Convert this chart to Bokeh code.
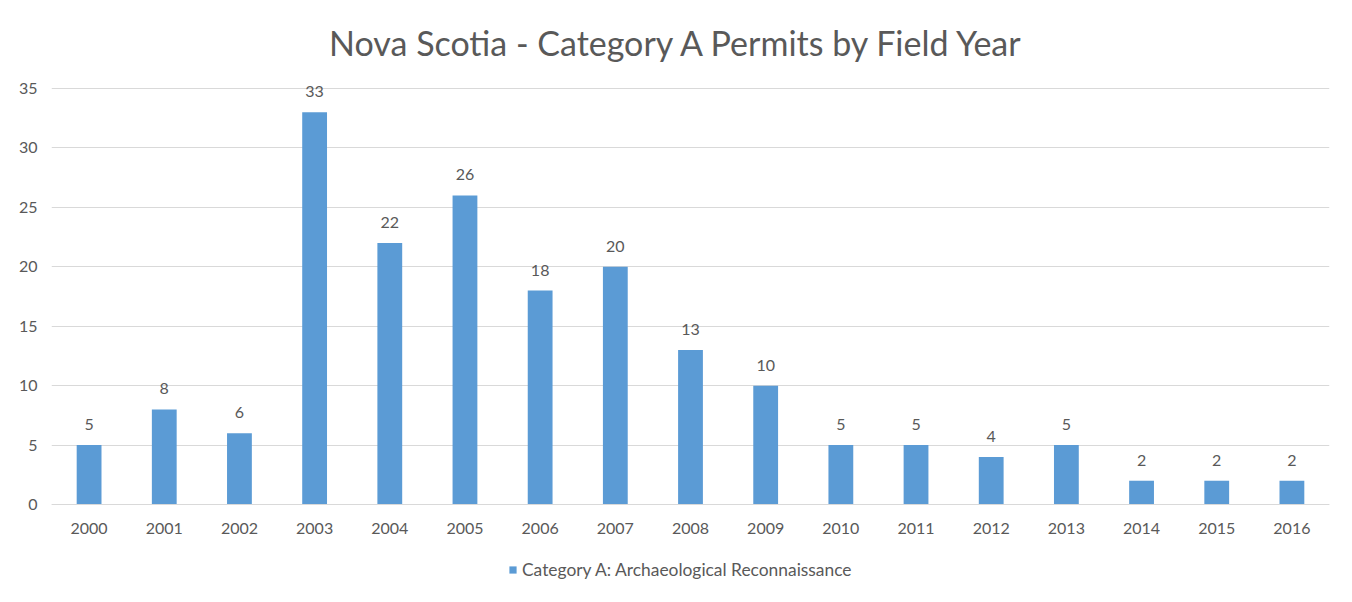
from bokeh.plotting import figure
from bokeh.models import (ColumnDataSource, LabelSet, Label, Legend, LegendItem,
                          FactorRange, Range1d, CategoricalAxis, LinearAxis, FixedTicker)
from bokeh.core.properties import value
from bokeh.embed import file_html
from bokeh.resources import INLINE

years = ["2000", "2001", "2002", "2003", "2004", "2005", "2006", "2007", "2008",
         "2009", "2010", "2011", "2012", "2013", "2014", "2015", "2016"]
permits = [5, 8, 6, 33, 22, 26, 18, 20, 13, 10, 5, 5, 4, 5, 2, 2, 2]
series_name = "Category A: Archaeological Reconnaissance"
title_text = "Nova Scotia - Category A Permits by Field Year"
y_ticks = [0, 5, 10, 15, 20, 25, 30, 35]

FONT = "Lato"
TXT = "#595959"
BAR = "#5B9BD5"
GRID = "#D9D9D9"

W, H = 1352, 602
LEFT, RIGHT = 51, 23          # frame margins (px)
Y_TOP_PX, Y_ZERO_PX = 88, 504  # pixel rows of value 35 and value 0
px_per_unit = (Y_ZERO_PX - Y_TOP_PX) / 35.0
y_lo = -(H - Y_ZERO_PX) / px_per_unit
y_hi = 35 + Y_TOP_PX / px_per_unit

src = ColumnDataSource(dict(year=years, val=permits, lab=[str(v) for v in permits]))

p = figure(width=W, height=H, output_backend="svg", toolbar_location=None,
           x_range=FactorRange(*years, range_padding=0), y_range=Range1d(y_lo, y_hi),
           x_axis_location=None, y_axis_location=None,
           min_border_left=LEFT, min_border_right=RIGHT, min_border_top=0, min_border_bottom=0)

r = p.vbar(x="year", top="val", width=0.33, source=src, color=BAR, line_color=None)

labels = LabelSet(x="year", y="val", text="lab", source=src, text_align="center",
                  text_baseline="bottom", y_offset=15, text_font_size="16px",
                  text_color=TXT, text_font=value(FONT))
p.add_layout(labels)

yaxis = LinearAxis(ticker=FixedTicker(ticks=y_ticks))
yaxis.axis_line_color = None
yaxis.major_tick_line_color = None
yaxis.minor_tick_line_color = None
yaxis.major_label_text_font = FONT
yaxis.major_label_text_font_size = "16px"
yaxis.major_label_text_color = TXT
yaxis.major_label_standoff = 8
p.add_layout(yaxis, "left")

xaxis = CategoricalAxis(fixed_location=0)
xaxis.axis_line_color = GRID
xaxis.major_tick_line_color = None
xaxis.minor_tick_line_color = None
xaxis.major_label_text_font = FONT
xaxis.major_label_text_font_size = "16px"
xaxis.major_label_text_color = TXT
xaxis.major_label_standoff = 12
p.add_layout(xaxis, "below")

p.xgrid.grid_line_color = None
p.ygrid.ticker = FixedTicker(ticks=y_ticks)
p.ygrid.grid_line_color = GRID
p.outline_line_color = None

title = Label(x=677 - LEFT, y=H - 42, x_units="screen", y_units="screen", text=title_text,
              text_font=FONT, text_font_size="34px", text_color=TXT,
              text_align="center", text_baseline="middle")
p.add_layout(title)

legend = Legend(items=[LegendItem(label=series_name, renderers=[r])],
                orientation="horizontal", location=(508 - LEFT, 22),
                label_text_font=FONT, label_text_font_size="17.4px", label_text_color=TXT,
                border_line_color=None, background_fill_alpha=0,
                glyph_width=9, glyph_height=9,
                label_standoff=5, padding=0, margin=0)
p.add_layout(legend)

open("out.html", "w").write(file_html(p, INLINE))
